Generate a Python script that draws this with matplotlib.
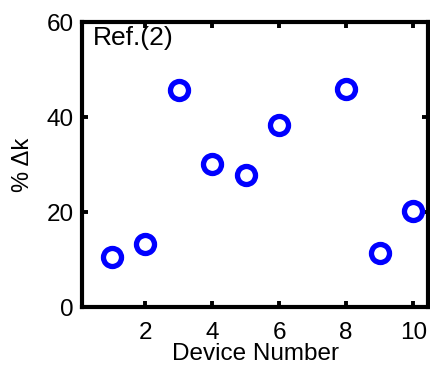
import matplotlib
matplotlib.use('Agg')
import matplotlib.pyplot as plt

# datos
dispositivos = [1, 2, 3, 4, 5, 6, 8, 9, 10]
delta_k = [10.5, 13.3, 45.7, 30.1, 27.8, 38.3, 45.9, 11.4, 20.2]
xticks = [2, 4, 6, 8, 10]
yticks = [0, 20, 40, 60]

plt.rcParams['font.family'] = ['Liberation Sans', 'DejaVu Sans']

fig = plt.figure(figsize=(4.3, 3.69), dpi=100)
ax = fig.add_axes([0.191, 0.168, 0.805, 0.772])

ax.plot(dispositivos, delta_k, linestyle='none', marker='o', markersize=13,
        markerfacecolor='none', markeredgecolor='#0000ff', markeredgewidth=3.8)

ax.set_xlim(0.12, 10.45)
ax.set_ylim(0, 60)
ax.set_xticks(xticks)
ax.set_yticks(yticks)
ax.tick_params(direction='in', length=4.5, width=2.8, labelsize=17.5,
               top=True, right=True)
ax.tick_params(axis='x', pad=11)
ax.tick_params(axis='y', pad=6)
for s in ax.spines.values():
    s.set_linewidth(3)

ax.text(0.03, 0.985, 'Ref.(2)', transform=ax.transAxes, fontsize=19,
        va='top', ha='left')
ax.set_xlabel('Device Number', fontsize=17.5, labelpad=-1)
ax.set_ylabel('% \u0394k', fontsize=17, labelpad=9)

fig.savefig('out.png', dpi=100)
